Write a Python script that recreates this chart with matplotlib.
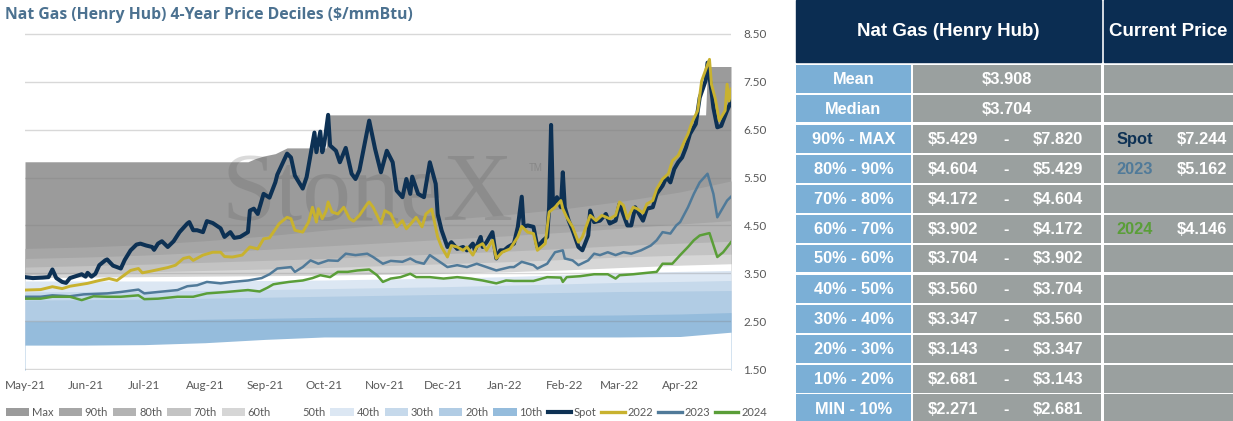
import matplotlib
matplotlib.use('Agg')
import matplotlib.pyplot as plt
import matplotlib.dates as mdates
from matplotlib.ticker import FormatStrFormatter
from matplotlib.patches import Patch, Rectangle
from matplotlib.lines import Line2D
import pandas as pd

START = pd.Timestamp('2021-05-01')
END_DAY = 361

# ---------------- data (days since 2021-05-01) ----------------
spot_days = [0,4,9,12,14,16,19,21,23,26,29,31,32,34,36,38,41,42,45,49,51,54,57,59,62,65,66,68,70,73,76,79,83,84,86,88,91,93,96,100,102,105,107,110,114,115,117,119,122,125,128,129,134,136,138,142,144,147,148,149,151,152,153,155,156,159,161,164,167,169,171,174,176,179,182,185,188,190,193,195,197,198,201,204,207,210,211,213,216,218,221,224,226,229,230,233,234,236,239,241,243,245,247,250,252,254,255,257,260,262,265,267,268,269,270,272,274,275,276,278,280,283,285,288,289,291,294,297,299,302,304,308,310,312,315,316,318,321,323,326,328,330,332,334,336,338,340,343,345,348,349,351,352,354,356,357,359,361]
spot_vals = [3.42,3.40,3.41,3.42,3.58,3.40,3.32,3.30,3.40,3.44,3.48,3.43,3.51,3.43,3.49,3.67,3.77,3.79,3.66,3.60,3.78,3.98,4.10,4.12,4.08,4.05,3.99,4.12,4.17,4.05,4.17,4.36,4.54,4.57,4.40,4.40,4.36,4.59,4.55,4.44,4.26,4.36,4.24,4.26,4.36,4.81,4.85,4.74,5.16,5.08,5.40,5.56,6.00,5.92,5.54,5.27,5.51,6.21,6.44,6.03,6.46,6.03,6.20,6.81,6.17,6.06,5.82,6.12,5.58,5.47,5.65,6.27,6.69,6.10,5.61,6.06,5.82,5.23,5.09,5.47,5.16,5.52,5.16,5.09,5.82,5.37,4.74,4.40,4.05,4.15,4.01,4.05,3.98,4.12,3.98,4.26,4.05,4.15,4.36,3.81,3.98,3.98,4.05,4.12,4.47,5.10,4.47,4.50,4.47,4.05,4.19,4.26,4.88,6.60,4.88,5.09,4.88,5.61,4.88,4.60,4.40,4.05,3.98,4.29,4.81,4.57,4.60,4.74,4.54,4.60,4.95,4.50,4.50,4.88,4.67,4.60,4.85,4.88,5.16,5.33,5.51,5.40,5.68,5.82,5.92,6.13,6.41,6.62,7.17,7.52,7.90,7.31,6.96,6.55,6.58,6.69,6.90,7.08]

y2022_days = [0,8,14,19,23,32,38,43,47,54,58,60,65,73,77,81,84,86,91,96,100,102,106,111,115,119,122,125,129,130,134,136,138,142,145,147,149,150,152,154,155,157,160,163,166,168,171,175,176,178,182,184,187,190,193,195,198,200,203,205,208,211,213,216,218,221,224,226,229,231,234,236,239,241,244,248,252,254,257,260,262,266,268,271,274,275,277,280,283,285,289,292,295,299,302,304,306,308,311,313,316,318,321,323,326,329,331,334,337,339,341,344,346,350,351,353,355,356,358,359,360,361]
y2022_vals = [3.15,3.16,3.22,3.18,3.23,3.29,3.35,3.39,3.35,3.56,3.60,3.51,3.55,3.62,3.67,3.81,3.84,3.77,3.88,3.94,3.94,3.85,3.84,3.88,4.05,4.01,4.22,4.24,4.48,4.54,4.67,4.64,4.40,4.36,4.57,4.88,4.57,4.85,4.64,4.81,4.99,4.78,4.74,4.88,4.64,4.59,4.71,4.95,4.99,4.88,4.54,4.81,4.74,4.47,4.60,4.43,4.57,4.67,4.47,4.74,4.84,4.26,4.05,3.84,4.08,4.05,3.98,4.05,3.88,4.05,4.12,3.98,4.19,3.81,3.94,4.01,4.26,4.48,4.36,4.33,3.98,4.12,4.78,4.88,5.02,4.85,4.67,4.47,4.15,4.26,4.71,4.60,4.71,4.64,4.71,4.99,4.92,4.64,4.88,4.85,4.76,4.95,5.02,5.26,5.47,5.58,5.85,5.96,6.24,6.41,6.65,6.90,7.52,7.97,7.45,7.14,6.69,6.76,6.90,7.45,7.10,7.35]

y2023_days = [0,8,14,23,30,42,49,58,61,68,78,83,88,93,100,106,114,121,125,129,136,138,142,146,150,155,160,164,169,175,178,183,187,193,197,200,204,207,211,216,221,226,231,236,241,245,248,250,254,260,262,267,271,275,276,280,283,288,291,294,298,302,306,310,315,320,323,326,330,333,335,339,342,345,349,352,354,356,359,361]
y2023_vals = [3.01,3.01,3.04,3.02,3.06,3.08,3.11,3.16,3.08,3.11,3.15,3.23,3.25,3.32,3.29,3.32,3.35,3.40,3.48,3.60,3.63,3.53,3.63,3.77,3.70,3.77,3.76,3.91,3.88,3.91,3.84,3.70,3.76,3.74,3.81,3.74,3.70,3.88,3.77,3.63,3.67,3.63,3.70,3.63,3.56,3.60,3.63,3.63,3.74,3.67,3.60,3.70,3.94,3.98,3.81,3.77,3.67,3.77,3.91,3.88,3.94,3.88,3.94,3.91,3.98,4.08,4.19,4.36,4.33,4.50,4.57,4.88,5.16,5.40,5.58,5.16,4.67,4.81,5.02,5.10]

y2024_days = [0,8,14,23,29,35,42,49,58,61,68,78,86,93,103,114,120,124,127,130,135,142,147,151,156,160,165,170,176,180,183,187,192,197,200,207,214,221,228,234,241,246,250,260,267,274,275,277,284,291,298,302,304,311,318,323,326,331,335,339,342,345,350,354,357,361]
y2024_vals = [2.97,2.97,3.01,3.01,2.94,3.02,3.01,3.01,3.04,2.96,2.97,3.01,3.01,3.08,3.11,3.15,3.12,3.20,3.27,3.29,3.32,3.35,3.40,3.46,3.42,3.53,3.53,3.56,3.58,3.46,3.32,3.39,3.42,3.49,3.42,3.42,3.39,3.42,3.39,3.35,3.29,3.35,3.34,3.34,3.42,3.41,3.32,3.42,3.44,3.48,3.48,3.39,3.46,3.48,3.51,3.53,3.70,3.70,3.88,4.05,4.19,4.29,4.34,3.84,3.94,4.15]

# decile bands (4-year rolling)
max_days = [0,114,118,122,128,134,154,155,348,349,361]
max_vals = [5.83,5.83,5.90,5.95,6.00,6.12,6.12,6.81,6.81,7.82,7.82]
dec_days = [0,31,61,92,123,153,184,214,245,276,304,335,361]
p90 = [4.02,4.05,4.10,4.18,4.28,4.40,4.52,4.62,4.72,4.85,5.00,5.20,5.43]
p80 = [3.81,3.84,3.88,3.94,4.00,4.07,4.14,4.21,4.28,4.36,4.44,4.53,4.60]
p70 = [3.63,3.66,3.69,3.73,3.77,3.81,3.86,3.91,3.96,4.02,4.08,4.13,4.17]
p60 = [3.47,3.50,3.53,3.56,3.59,3.62,3.66,3.70,3.74,3.79,3.84,3.88,3.90]
p50 = [3.41,3.42,3.43,3.44,3.45,3.46,3.48,3.50,3.53,3.57,3.62,3.67,3.70]
p40 = [3.34,3.34,3.34,3.34,3.35,3.36,3.38,3.40,3.43,3.47,3.51,3.54,3.56]
p30 = [3.11,3.12,3.13,3.14,3.16,3.18,3.20,3.22,3.25,3.28,3.31,3.33,3.35]
p20 = [2.94,2.95,2.96,2.98,3.00,3.02,3.04,3.06,3.08,3.10,3.12,3.13,3.14]
p10 = [2.49,2.50,2.52,2.54,2.56,2.58,2.59,2.60,2.61,2.62,2.63,2.65,2.68]
pmin = [2.00,2.00,2.01,2.05,2.12,2.17,2.17,2.17,2.17,2.17,2.17,2.18,2.27]

band_labels = ['Max','90th','80th','70th','60th','50th','40th','30th','20th','10th']
band_colors = ['#9b9b9b','#a6a6a6','#b3b3b3','#c3c3c3','#d6d6d6','#ffffff',
               '#dce7f3','#c6d9eb','#b1cce4','#95bcdc']

yticks = [1.5,2.5,3.5,4.5,5.5,6.5,7.5,8.5]

# table data
title = 'Nat Gas (Henry Hub) 4-Year Price Deciles ($/mmBtu)'
header_left = 'Nat Gas (Henry Hub)'
header_right = 'Current Price'
stat_labels = ['Mean', 'Median']
stat_values = [3.908, 3.704]
range_labels = ['90% - MAX','80% - 90%','70% - 80%','60% - 70%','50% - 60%',
                '40% - 50%','30% - 40%','20% - 30%','10% - 20%','MIN - 10%']
range_low = [5.429,4.604,4.172,3.902,3.704,3.560,3.347,3.143,2.681,2.271]
range_high = [7.820,5.429,4.604,4.172,3.902,3.704,3.560,3.347,3.143,2.681]
current_names = ['Spot','2023','2024']
current_values = [7.244,5.162,4.146]

# ---------------- styling ----------------
C_SPOT = '#0d3154'
C_2022 = '#c8b22f'
C_2023 = '#507a99'
C_2024 = '#5a9e38'
TXT = '#595959'
FONT = 'Lato'

def dates(days):
    return START + pd.to_timedelta(days, unit='D')

W, H = 1233, 421
fig = plt.figure(figsize=(W/100, H/100), dpi=100)
ax = fig.add_axes([25/W, 51/H, 706/W, 337/H])

# bands drawn as overlapping areas from the bottom, like the original
band_series = [(max_days, max_vals), (dec_days, p90), (dec_days, p80), (dec_days, p70),
               (dec_days, p60), (dec_days, p50), (dec_days, p40), (dec_days, p30),
               (dec_days, p20), (dec_days, p10)]
for i, ((d, v), c) in enumerate(zip(band_series, band_colors)):
    ax.fill_between(dates(d), 1.0, v, color=c, lw=0, zorder=1 + i*0.01)
ax.fill_between(dates(dec_days), 1.0, pmin, color='white', lw=0, zorder=1.2)

# watermark
ax.text(0.485, 0.445, 'StoneX', transform=ax.transAxes, ha='center', va='baseline',
        fontsize=70, family='Liberation Serif', color='#5a5a5a', alpha=0.22, zorder=1.5)
ax.text(0.713, 0.60, 'TM', transform=ax.transAxes, ha='left', va='center',
        fontsize=7, family='Liberation Sans', color='#5a5a5a', alpha=0.3, zorder=1.5)

ax.plot(dates(spot_days), spot_vals, color=C_SPOT, lw=2.9, zorder=4, solid_joinstyle='round')
ax.plot(dates(y2022_days), y2022_vals, color=C_2022, lw=2.1, zorder=4.1, solid_joinstyle='round')
ax.plot(dates(y2023_days), y2023_vals, color=C_2023, lw=1.8, zorder=4.2, solid_joinstyle='round')
ax.plot(dates(y2024_days), y2024_vals, color=C_2024, lw=1.8, zorder=4.3, solid_joinstyle='round')

ax.set_xlim(dates([0])[0], dates([END_DAY])[0])
ax.set_ylim(1.48, 8.52)
ax.set_yticks(yticks)
ax.yaxis.set_major_formatter(FormatStrFormatter('%.2f'))
ax.yaxis.tick_right()
ax.set_axisbelow(False)
ax.yaxis.grid(True, color='#808080', alpha=0.3, lw=1.0)
ax.xaxis.set_major_locator(mdates.MonthLocator())
ax.xaxis.set_major_formatter(mdates.DateFormatter('%b-%y'))
ax.tick_params(axis='x', length=0, pad=7, labelsize=8.5, labelcolor=TXT)
ax.tick_params(axis='y', length=0, pad=9, labelsize=8.5, labelcolor=TXT)
for lab in ax.get_xticklabels() + ax.get_yticklabels():
    lab.set_family(FONT)
for s in ax.spines.values():
    s.set_visible(False)
ax.set_facecolor('white')

# title
fig.text(5/W, 1 - 15/H, title, fontsize=11.3, fontweight='bold', color='#4b7190',
         family='Open Sans', ha='left', va='center')

# legend
handles = [Patch(facecolor=c, edgecolor='none') for c in band_colors]
handles += [Line2D([], [], color=C_SPOT, lw=3), Line2D([], [], color=C_2022, lw=2.4),
            Line2D([], [], color=C_2023, lw=2.4), Line2D([], [], color=C_2024, lw=2.4)]
labels = band_labels + ['Spot', '2022', '2023', '2024']
leg = fig.legend(handles, labels, loc='lower left', bbox_to_anchor=(6/W, 3/H), ncol=14,
                 frameon=False, handlelength=2.1, handleheight=0.7,
                 handletextpad=0.25, columnspacing=0.45, borderpad=0, borderaxespad=0,
                 prop={'family': FONT, 'size': 8})
for t in leg.get_texts():
    t.set_color(TXT)

# ---------------- table ----------------
tax = fig.add_axes([0, 0, 1, 1], zorder=5)
tax.set_xlim(0, W)
tax.set_ylim(H, 0)
tax.axis('off')
NAVY = '#0b2d52'
LBLUE = '#7bafd6'
GREY = '#9aa09f'
TF = 'Liberation Sans'

col_lab = (796, 115)
col_val = (913, 188)
col_cur = (1104, 129)

tax.add_patch(Rectangle((796, 0), 305, 62, color=NAVY))
tax.add_patch(Rectangle((1104, 0), 129, 62, color=NAVY))
tax.text(948.5, 32, header_left, ha='center', va='center', color='white',
         fontsize=13.5, fontweight='bold', family=TF)
tax.text(1168.5, 32, header_right, ha='center', va='center', color='white',
         fontsize=13.5, fontweight='bold', family=TF)

row_labels = stat_labels + range_labels
pitch = 29.95
thick_after = {1, 6}
cur_map = {}
for name, val, col in zip(current_names, current_values, [C_SPOT, C_2023, C_2024]):
    for j, (lo, hi) in enumerate(zip(range_low, range_high)):
        if lo <= val <= hi:
            cur_map[len(stat_labels) + j] = (name, val, col)
            break

for i, lab in enumerate(row_labels):
    top = 65 + i * pitch
    h = pitch - (2.8 if i in thick_after else 1.5)
    for (x0, w), fc in zip([col_lab, col_val, col_cur], [LBLUE, GREY, GREY]):
        tax.add_patch(Rectangle((x0, top), w, h, color=fc, lw=0))
    yc = top + h/2 + 0.5
    kw = dict(va='center', color='white', fontsize=11.8, fontweight='bold', family=TF)
    tax.text(853.5, yc, lab, ha='center', **kw)
    if i < len(stat_labels):
        tax.text(1007, yc, f'${stat_values[i]:.3f}', ha='center', **kw)
    else:
        j = i - len(stat_labels)
        tax.text(953, yc, f'${range_low[j]:.3f}', ha='center', **kw)
        tax.text(1006, yc, '-', ha='center', **kw)
        tax.text(1058, yc, f'${range_high[j]:.3f}', ha='center', **kw)
    if i in cur_map:
        name, val, col = cur_map[i]
        kw2 = dict(kw)
        kw2['color'] = col
        tax.text(1135, yc, name, ha='center', **kw2)
        tax.text(1202, yc, f'${val:.3f}', ha='center', **kw)

fig.savefig('out.png', dpi=100)
